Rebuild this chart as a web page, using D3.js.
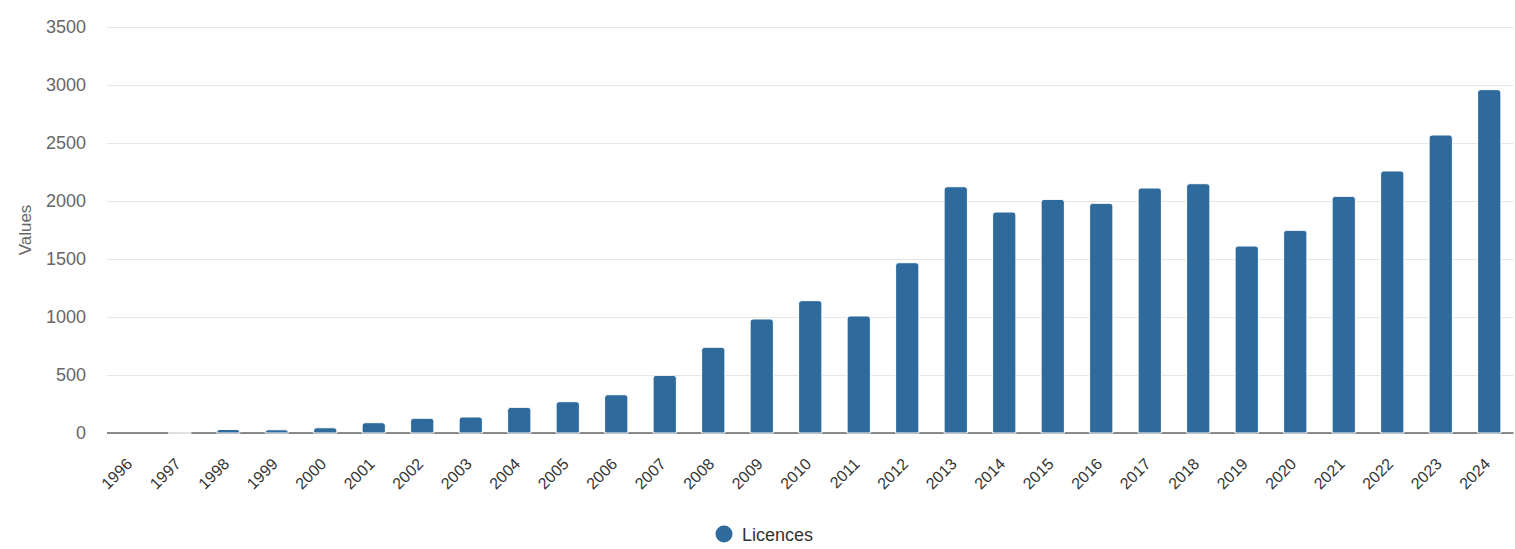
<!DOCTYPE html>
<html>
<head>
<meta charset="utf-8">
<script src="https://cdn.jsdelivr.net/npm/d3@7"></script>
<style>
  html, body { margin: 0; padding: 0; background: #fff; }
  svg { display: block; font-family: "Liberation Sans", Arial, sans-serif; }
</style>
</head>
<body>
<svg id="chart" width="1515" height="549"></svg>
<script>
// Licences issued per year
const years = ["1996","1997","1998","1999","2000","2001","2002","2003","2004","2005",
  "2006","2007","2008","2009","2010","2011","2012","2013","2014","2015",
  "2016","2017","2018","2019","2020","2021","2022","2023","2024"];
const licences = [null, 0, 30, 28, 45, 89, 127, 138, 221, 270,
  330, 497, 739, 983, 1141, 1009, 1468, 2123, 1905, 2014,
  1980, 2112, 2149, 1612, 1747, 2040, 2259, 2569, 2960];
const yTicks = [0, 500, 1000, 1500, 2000, 2500, 3000, 3500];
const seriesName = "Licences";
const barColor = "#2e6a9b";

const svg = d3.select("#chart");
const margin = { left: 107, right: 1.5, top: 27, bottom: 116 };
const W = 1515, H = 549;
const plotBottom = H - margin.bottom;

const x = d3.scaleBand()
  .domain(years)
  .range([margin.left, W - margin.right])
  .paddingInner(0.52)
  .paddingOuter(0.26);

const y = d3.scaleLinear()
  .domain([0, 3500])
  .range([plotBottom, margin.top]);

// Horizontal grid lines
svg.append("g")
  .selectAll("line")
  .data(yTicks)
  .join("line")
  .attr("x1", margin.left)
  .attr("x2", W - margin.right)
  .attr("y1", d => Math.round(y(d)) + 0.5)
  .attr("y2", d => Math.round(y(d)) + 0.5)
  .attr("stroke", "#e6e6e6")
  .attr("stroke-width", 1);

// Y axis labels
const yAxis = d3.axisLeft(y).tickValues(yTicks).tickFormat(d3.format("d")).tickSize(0).tickPadding(0);
const gy = svg.append("g")
  .attr("transform", `translate(86,0)`)
  .call(yAxis);
gy.select(".domain").remove();
gy.selectAll("text")
  .attr("fill", "#666")
  .style("font-size", "18px")
  .style("font-family", "\"Liberation Sans\", Arial, sans-serif");

// Y axis title
svg.append("text")
  .attr("transform", `translate(31,${(margin.top + plotBottom) / 2}) rotate(-90)`)
  .attr("text-anchor", "middle")
  .attr("fill", "#666")
  .style("font-size", "17px")
  .text("Values");

// Bars with rounded tops
const points = years.map((year, i) => ({ year, value: licences[i] }))
  .filter(p => p.value !== null);
const r = 3;
function barPath(p) {
  const x0 = x(p.year), w = x.bandwidth();
  const yt = y(p.value), yb = y(0);
  const h = yb - yt;
  const rr = Math.min(r, h, w / 2);
  return `M${x0},${yb}V${yt + rr}Q${x0},${yt} ${x0 + rr},${yt}` +
    `H${x0 + w - rr}Q${x0 + w},${yt} ${x0 + w},${yt + rr}V${yb}Z`;
}

// X axis line (drawn under the bars so zero-height bars show their border)
svg.append("line")
  .attr("x1", margin.left)
  .attr("x2", W - margin.right)
  .attr("y1", plotBottom)
  .attr("y2", plotBottom)
  .attr("stroke", "#666")
  .attr("stroke-width", 1.5);

svg.append("g")
  .selectAll("path")
  .data(points)
  .join("path")
  .attr("d", barPath)
  .attr("fill", barColor)
  .attr("stroke", "#ffffff")
  .attr("stroke-width", 1);

// X axis labels, rotated
const xAxis = d3.axisBottom(x).tickSize(0).tickPadding(0);
const gx = svg.append("g")
  .attr("transform", `translate(0,${plotBottom})`)
  .call(xAxis);
gx.select(".domain").remove();
gx.selectAll("text")
  .attr("fill", "#333")
  .style("font-size", "16px")
  .style("font-family", "\"Liberation Sans\", Arial, sans-serif")
  .attr("text-anchor", "end")
  .attr("dy", 0)
  .attr("y", 0)
  .attr("transform", "translate(2,32) rotate(-45)");

// Legend
const legend = svg.append("g").attr("transform", "translate(724,534)");
legend.append("circle").attr("r", 8.5).attr("fill", barColor);
legend.append("text")
  .attr("x", 18)
  .attr("y", 6.5)
  .attr("fill", "#333")
  .style("font-size", "18px")
  .text(seriesName);
</script>
</body>
</html>
